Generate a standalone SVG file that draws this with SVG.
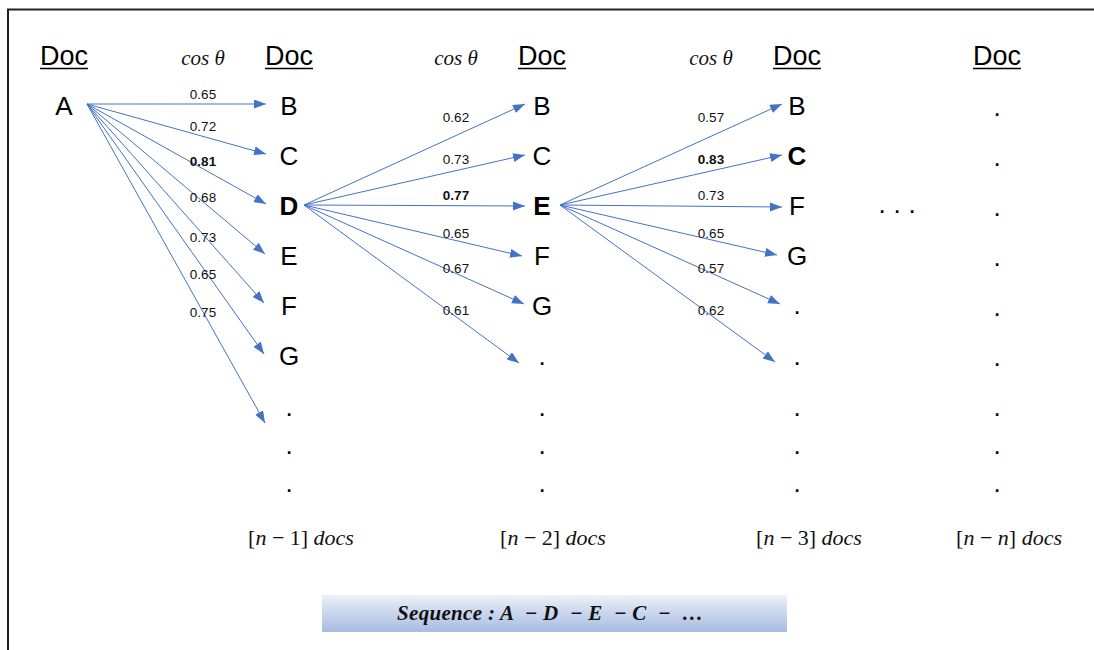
<svg xmlns="http://www.w3.org/2000/svg" width="1094" height="650" viewBox="0 0 1094 650">
  <defs>
    <marker id="arrow" markerUnits="userSpaceOnUse" markerWidth="13" markerHeight="10" refX="12" refY="4.5" orient="auto">
      <path d="M0,0 L12,4.5 L0,9 z" fill="#4472C4"/>
    </marker>
    <linearGradient id="seqFill" x1="0" y1="0" x2="0" y2="1">
      <stop offset="0" stop-color="#eef2f9"/>
      <stop offset="0.35" stop-color="#d3ddf0"/>
      <stop offset="1" stop-color="#a8bce2"/>
    </linearGradient>
    <style>
      .head { font-family: "Liberation Sans", Arial, sans-serif; font-size: 27px; fill: #000; text-anchor: middle; }
      .uline { stroke: #000; stroke-width: 1.5; }
      .node { font-family: "Liberation Sans", Arial, sans-serif; font-size: 26px; fill: #000; text-anchor: middle; }
      .bold { font-weight: bold; }
      .dot { font-family: "Liberation Sans", Arial, sans-serif; font-size: 26px; fill: #000; text-anchor: middle; }
      .w { font-family: "Liberation Sans", Arial, sans-serif; font-size: 13.5px; fill: #111; text-anchor: middle; }
      .wb { font-weight: bold; }
      .math { font-family: "Liberation Serif", "Times New Roman", serif; font-size: 21px; fill: #111; text-anchor: middle; }
      .count { font-size: 22px; }
      .it { font-style: italic; }
      .edge { stroke: #4472C4; stroke-width: 1; fill: none; marker-end: url(#arrow); }
      .frame { stroke: #222; stroke-width: 2; fill: none; }
      .seq { font-family: "Liberation Serif", "Times New Roman", serif; font-size: 21px; font-weight: bold; font-style: italic; fill: #111; white-space: pre; }
    </style>
  </defs>

  <!-- frame: top and left edges -->
  <path class="frame" d="M8,650 L8,9.5 L1094,9.5"/>

  <!-- column headings -->
  <g id="headings">
    <text class="head" x="64" y="65">Doc</text>
    <line class="uline" x1="40" y1="68.5" x2="88" y2="68.5"/>
    <text class="head" x="289" y="65">Doc</text>
    <line class="uline" x1="265" y1="68.5" x2="313" y2="68.5"/>
    <text class="head" x="542" y="65">Doc</text>
    <line class="uline" x1="518" y1="68.5" x2="566" y2="68.5"/>
    <text class="head" x="797" y="65">Doc</text>
    <line class="uline" x1="773" y1="68.5" x2="821" y2="68.5"/>
    <text class="head" x="997" y="65">Doc</text>
    <line class="uline" x1="973" y1="68.5" x2="1021" y2="68.5"/>
    <text class="math it" x="203" y="65">cos θ</text>
    <text class="math it" x="456" y="65">cos θ</text>
    <text class="math it" x="711" y="65">cos θ</text>
  </g>

  <!-- connectors -->
  <g id="connectors">
    <!-- from A -->
    <line class="edge" x1="87" y1="104" x2="266" y2="104"/>
    <line class="edge" x1="87" y1="104" x2="266" y2="154"/>
    <line class="edge" x1="87" y1="104" x2="266" y2="204"/>
    <line class="edge" x1="87" y1="104" x2="265" y2="254"/>
    <line class="edge" x1="87" y1="104" x2="264" y2="303"/>
    <line class="edge" x1="87" y1="104" x2="264" y2="354"/>
    <line class="edge" x1="87" y1="104" x2="265" y2="423"/>
    <!-- from D -->
    <line class="edge" x1="304" y1="205" x2="525" y2="104"/>
    <line class="edge" x1="304" y1="205" x2="525" y2="155"/>
    <line class="edge" x1="304" y1="205" x2="525" y2="206"/>
    <line class="edge" x1="304" y1="205" x2="522" y2="256"/>
    <line class="edge" x1="304" y1="205" x2="524" y2="304"/>
    <line class="edge" x1="304" y1="205" x2="519" y2="363"/>
    <!-- from E -->
    <line class="edge" x1="560" y1="205" x2="782" y2="104"/>
    <line class="edge" x1="560" y1="205" x2="782" y2="155"/>
    <line class="edge" x1="560" y1="205" x2="782" y2="207"/>
    <line class="edge" x1="560" y1="205" x2="777" y2="255"/>
    <line class="edge" x1="560" y1="205" x2="780" y2="304"/>
    <line class="edge" x1="560" y1="205" x2="775" y2="362"/>
  </g>

  <!-- similarity weights -->
  <g id="weights">
    <text class="w" x="203" y="99">0.65</text>
    <text class="w" x="203" y="131">0.72</text>
    <text class="w wb" x="203" y="166">0.81</text>
    <text class="w" x="203" y="202">0.68</text>
    <text class="w" x="203" y="242">0.73</text>
    <text class="w" x="203" y="279">0.65</text>
    <text class="w" x="203" y="317">0.75</text>

    <text class="w" x="456" y="122">0.62</text>
    <text class="w" x="456" y="164">0.73</text>
    <text class="w wb" x="456" y="200">0.77</text>
    <text class="w" x="456" y="238">0.65</text>
    <text class="w" x="456" y="273">0.67</text>
    <text class="w" x="456" y="315">0.61</text>

    <text class="w" x="711" y="122">0.57</text>
    <text class="w wb" x="711" y="164">0.83</text>
    <text class="w" x="711" y="200">0.73</text>
    <text class="w" x="711" y="238">0.65</text>
    <text class="w" x="711" y="273">0.57</text>
    <text class="w" x="711" y="315">0.62</text>
  </g>

  <!-- column 1 -->
  <g id="col1">
    <text class="node" x="64" y="115">A</text>
  </g>

  <!-- column 2 -->
  <g id="col2">
    <text class="node" x="289" y="115">B</text>
    <text class="node" x="289" y="165">C</text>
    <text class="node bold" x="289" y="215">D</text>
    <text class="node" x="289" y="265">E</text>
    <text class="node" x="289" y="315">F</text>
    <text class="node" x="289" y="365">G</text>
    <text class="dot" x="289" y="416">.</text>
    <text class="dot" x="289" y="454">.</text>
    <text class="dot" x="289" y="492">.</text>
    <text class="math count" x="301" y="545">[<tspan class="it">n</tspan> − 1] <tspan class="it">docs</tspan></text>
  </g>

  <!-- column 3 -->
  <g id="col3">
    <text class="node" x="542" y="115">B</text>
    <text class="node" x="542" y="165">C</text>
    <text class="node bold" x="542" y="215">E</text>
    <text class="node" x="542" y="265">F</text>
    <text class="node" x="542" y="315">G</text>
    <text class="dot" x="542" y="365">.</text>
    <text class="dot" x="542" y="416">.</text>
    <text class="dot" x="542" y="454">.</text>
    <text class="dot" x="542" y="492">.</text>
    <text class="math count" x="553" y="545">[<tspan class="it">n</tspan> − 2] <tspan class="it">docs</tspan></text>
  </g>

  <!-- column 4 -->
  <g id="col4">
    <text class="node" x="797" y="115">B</text>
    <text class="node bold" x="797" y="165">C</text>
    <text class="node" x="797" y="215">F</text>
    <text class="node" x="797" y="265">G</text>
    <text class="dot" x="797" y="314">.</text>
    <text class="dot" x="797" y="365">.</text>
    <text class="dot" x="797" y="416">.</text>
    <text class="dot" x="797" y="454">.</text>
    <text class="dot" x="797" y="492">.</text>
    <text class="math count" x="809" y="545">[<tspan class="it">n</tspan> − 3] <tspan class="it">docs</tspan></text>
  </g>

  <!-- continuation marker -->
  <g id="ellipsis">
    <text class="dot" x="882" y="213">.</text>
    <text class="dot" x="897" y="213">.</text>
    <text class="dot" x="912" y="213">.</text>
  </g>

  <!-- column 5 -->
  <g id="col5">
    <text class="dot" x="997" y="116">.</text>
    <text class="dot" x="997" y="166">.</text>
    <text class="dot" x="997" y="216">.</text>
    <text class="dot" x="997" y="266">.</text>
    <text class="dot" x="997" y="316">.</text>
    <text class="dot" x="997" y="366">.</text>
    <text class="dot" x="997" y="416">.</text>
    <text class="dot" x="997" y="454">.</text>
    <text class="dot" x="997" y="492">.</text>
    <text class="math count" x="1009" y="545">[<tspan class="it">n</tspan> − <tspan class="it">n</tspan>] <tspan class="it">docs</tspan></text>
  </g>

  <!-- resulting sequence -->
  <g id="sequence">
    <rect x="322" y="595" width="465" height="37" fill="url(#seqFill)"/>
    <text class="seq" x="397" y="620" textLength="306" lengthAdjust="spacing">Sequence : A  − D  − E  − C  −  …</text>
  </g>
</svg>
